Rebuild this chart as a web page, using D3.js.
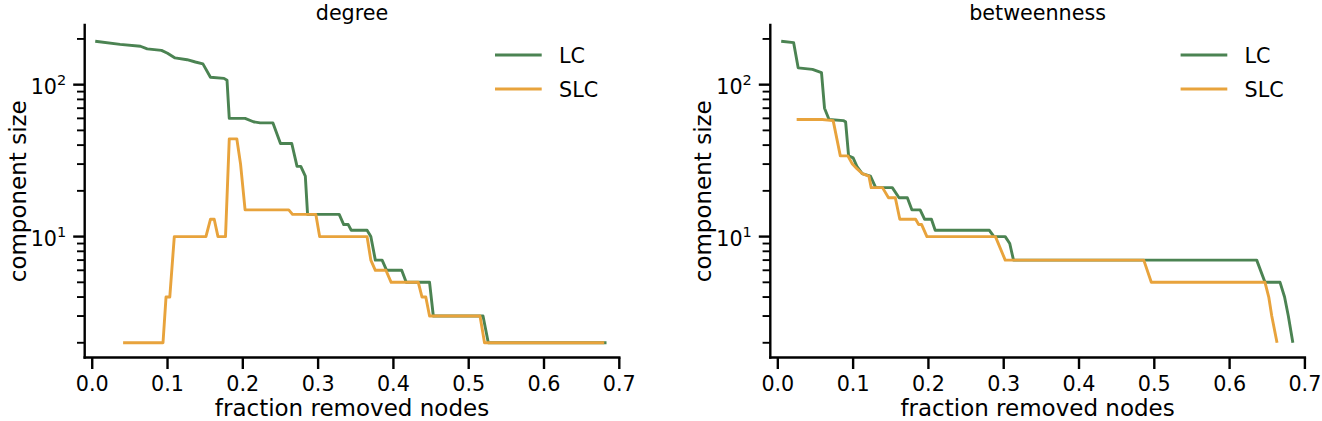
<!DOCTYPE html>
<html>
<head>
<meta charset="utf-8">
<script src="https://cdn.jsdelivr.net/npm/d3@7"></script>
<style>
  body { margin: 0; background: #fff; }
  svg { display: block; font-family: "DejaVu Sans", sans-serif; }
</style>
</head>
<body>
<div id="container"></div>
<script>
// fraction removed nodes / component size
const degreeLCFrac = [0.004, 0.037, 0.064, 0.073, 0.092, 0.100, 0.110, 0.126, 0.137, 0.147, 0.157, 0.175, 0.179, 0.182, 0.203, 0.214, 0.223, 0.240, 0.250, 0.265, 0.272, 0.277, 0.283, 0.286, 0.328, 0.334, 0.340, 0.344, 0.365, 0.370, 0.376, 0.385, 0.391, 0.411, 0.417, 0.448, 0.453, 0.519, 0.526, 0.683];
const degreeLC = [193, 184, 179, 172, 168, 161, 150, 146, 141, 137, 112, 110, 107, 60, 60, 57, 56, 56, 41, 41, 29, 29, 25, 14, 14, 12, 12, 11, 11, 10, 7, 7, 6, 6, 5, 5, 3, 3, 2, 2];

const degreeSLCFrac = [0.041, 0.094, 0.098, 0.103, 0.109, 0.151, 0.157, 0.162, 0.167, 0.177, 0.182, 0.192, 0.197, 0.203, 0.261, 0.266, 0.297, 0.302, 0.365, 0.370, 0.376, 0.390, 0.397, 0.433, 0.438, 0.443, 0.448, 0.515, 0.521, 0.680];
const degreeSLC = [2, 2, 4, 4, 10, 10, 13, 13, 10, 10, 44, 44, 30, 15, 15, 14, 14, 10, 10, 7, 6, 6, 5, 5, 4, 4, 3, 3, 2, 2];

const betwLCFrac = [0.0045, 0.021, 0.027, 0.046, 0.058, 0.062, 0.068, 0.087, 0.090, 0.094, 0.100, 0.105, 0.112, 0.123, 0.130, 0.152, 0.161, 0.172, 0.178, 0.189, 0.195, 0.204, 0.209, 0.281, 0.287, 0.302, 0.308, 0.313, 0.636, 0.647, 0.667, 0.673, 0.678, 0.684];
const betwLC = [193, 189, 129, 126, 120, 70, 59, 58, 57, 34, 33, 29, 26, 25, 21, 21, 18, 18, 15, 15, 13, 13, 11, 11, 10, 10, 9, 7, 7, 5, 5, 4, 3, 2];

const betwSLCFrac = [0.025, 0.059, 0.0735, 0.083, 0.093, 0.099, 0.105, 0.112, 0.121, 0.124, 0.139, 0.147, 0.156, 0.162, 0.183, 0.187, 0.191, 0.198, 0.289, 0.302, 0.486, 0.496, 0.647, 0.652, 0.656, 0.663];
const betwSLC = [59, 59, 58, 34, 34, 30, 28, 26, 25, 21, 21, 18, 18, 13, 13, 12, 12, 10, 10, 7, 7, 5, 5, 4, 3, 2];

const xTicks = [0.0, 0.1, 0.2, 0.3, 0.4, 0.5, 0.6, 0.7];
const yMajorTicks = [10, 100];
const yMinorTicks = [2, 3, 4, 5, 6, 7, 8, 9, 20, 30, 40, 50, 60, 70, 80, 90, 200];
const seriesNames = ["LC", "SLC"];

const width = 1322, height = 421;
const colors = ["#4b8352", "#e8a33c"];
const axisLeft = [84.7, 770.3];
const plotW = 534.6;
const plotTop = 25, plotBottom = 357.5;

const svg = d3.select("#container").append("svg")
    .attr("width", width)
    .attr("height", height);

function drawPanel(x0, title, series) {
    const x = d3.scaleLinear()
        .domain([-0.01, 0.7])
        .range([x0, x0 + plotW]);
    const y = d3.scaleLog()
        .domain([1.6, 247])
        .range([plotBottom, plotTop]);

    const g = svg.append("g");

    // x axis
    g.append("line")
        .attr("x1", x0).attr("x2", x0 + plotW)
        .attr("y1", plotBottom).attr("y2", plotBottom)
        .attr("stroke", "#000").attr("stroke-width", 2.4).attr("stroke-linecap", "square");
    xTicks.forEach(t => {
        g.append("line")
            .attr("x1", x(t)).attr("x2", x(t))
            .attr("y1", plotBottom).attr("y2", plotBottom + 11.5)
            .attr("stroke", "#000").attr("stroke-width", 2.4);
        g.append("text")
            .attr("x", x(t)).attr("y", 391)
            .attr("text-anchor", "middle")
            .attr("font-size", "20.7px")
            .text(t.toFixed(1));
    });

    // y axis
    g.append("line")
        .attr("x1", x0).attr("x2", x0)
        .attr("y1", plotTop).attr("y2", plotBottom)
        .attr("stroke", "#000").attr("stroke-width", 2.4).attr("stroke-linecap", "square");
    yMinorTicks.forEach(t => {
        g.append("line")
            .attr("x1", x0 - 7.7).attr("x2", x0)
            .attr("y1", y(t)).attr("y2", y(t))
            .attr("stroke", "#000").attr("stroke-width", 1.9);
    });
    yMajorTicks.forEach(t => {
        g.append("line")
            .attr("x1", x0 - 11.5).attr("x2", x0)
            .attr("y1", y(t)).attr("y2", y(t))
            .attr("stroke", "#000").attr("stroke-width", 2.4);
        const lab = g.append("text")
            .attr("x", x0 - 18.5).attr("y", y(t) + 9)
            .attr("text-anchor", "end")
            .attr("font-size", "20.7px");
        lab.append("tspan").text("10");
        lab.append("tspan")
            .attr("dy", -9)
            .attr("font-size", "14.5px")
            .text(String(Math.round(Math.log10(t))));
    });

    // lines
    series.forEach((s, i) => {
        g.append("path")
            .datum(d3.zip(s.frac, s.size))
            .attr("fill", "none")
            .attr("stroke", colors[i])
            .attr("stroke-width", 2.9)
            .attr("stroke-linejoin", "round")
            .attr("d", d3.line()
                .x(d => x(d[0]))
                .y(d => y(d[1])));
    });

    // legend
    seriesNames.forEach((name, i) => {
        const ly = 55 + i * 34;
        g.append("line")
            .attr("x1", x0 + 410.3).attr("x2", x0 + 457)
            .attr("y1", ly).attr("y2", ly)
            .attr("stroke", colors[i]).attr("stroke-width", 2.9);
        g.append("text")
            .attr("x", x0 + 474.3).attr("y", ly + 7.5)
            .attr("font-size", "20.7px")
            .text(name);
    });

    // labels
    g.append("text")
        .attr("x", x0 + plotW / 2).attr("y", 19.5)
        .attr("text-anchor", "middle")
        .attr("font-size", "20.7px")
        .text(title);
    g.append("text")
        .attr("x", x0 + plotW / 2).attr("y", 416)
        .attr("text-anchor", "middle")
        .attr("font-size", "23px")
        .text("fraction removed nodes");
    g.append("text")
        .attr("transform", `translate(${x0 - 59}, ${(plotTop + plotBottom) / 2}) rotate(-90)`)
        .attr("text-anchor", "middle")
        .attr("font-size", "23px")
        .text("component size");
}

drawPanel(axisLeft[0], "degree", [
    {frac: degreeLCFrac, size: degreeLC},
    {frac: degreeSLCFrac, size: degreeSLC}
]);
drawPanel(axisLeft[1], "betweenness", [
    {frac: betwLCFrac, size: betwLC},
    {frac: betwSLCFrac, size: betwSLC}
]);
</script>
</body>
</html>
